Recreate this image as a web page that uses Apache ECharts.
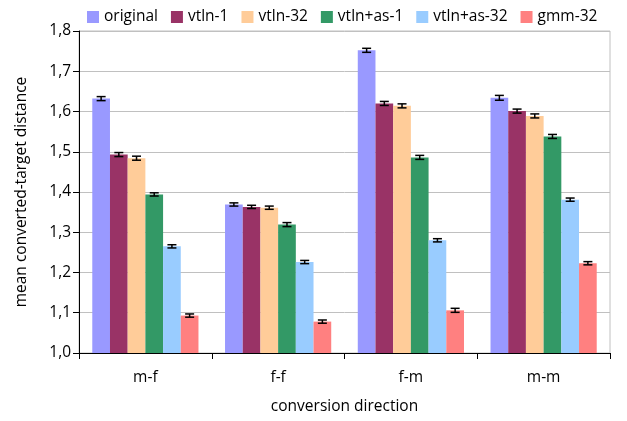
<!DOCTYPE html>
<html>
<head>
<meta charset="utf-8">
<script src="https://cdn.jsdelivr.net/npm/echarts@6/dist/echarts.min.js"></script>
<style>
  html, body { margin: 0; padding: 0; background: #fff; }
  #chart { width: 627px; height: 421px; }
</style>
</head>
<body>
<div id="chart"></div>
<script>
const categories = ["m-f", "f-f", "f-m", "m-m"];
const seriesNames = ["original", "vtln-1", "vtln-32", "vtln+as-1", "vtln+as-32", "gmm-32"];
const colors = ["#9999ff", "#993366", "#ffcc99", "#339966", "#99ccff", "#ff8080"];

// mean distance per conversion direction
const original = [1.632, 1.369, 1.752, 1.634];
const vtln1 = [1.493, 1.363, 1.620, 1.601];
const vtln32 = [1.484, 1.361, 1.614, 1.589];
const vtlnAs1 = [1.394, 1.319, 1.486, 1.538];
const vtlnAs32 = [1.265, 1.226, 1.280, 1.381];
const gmm32 = [1.093, 1.078, 1.106, 1.223];

// half-width of the error bars
const errOriginal = [0.005, 0.004, 0.005, 0.006];
const errVtln1 = [0.005, 0.004, 0.005, 0.005];
const errVtln32 = [0.005, 0.004, 0.005, 0.005];
const errVtlnAs1 = [0.004, 0.005, 0.005, 0.005];
const errVtlnAs32 = [0.004, 0.004, 0.004, 0.004];
const errGmm32 = [0.004, 0.004, 0.005, 0.004];

const yTicks = ["1,0", "1,1", "1,2", "1,3", "1,4", "1,5", "1,6", "1,7", "1,8"];

const values = [original, vtln1, vtln32, vtlnAs1, vtlnAs32, gmm32];
const errors = [errOriginal, errVtln1, errVtln32, errVtlnAs1, errVtlnAs32, errGmm32];
const catGap = 0.2;
const font = "'Open Sans', sans-serif";

const chart = echarts.init(document.getElementById("chart"), null, { renderer: "canvas" });

const barSeries = seriesNames.map((name, i) => ({
  name,
  type: "bar",
  data: values[i],
  barGap: "0%",
  barCategoryGap: catGap * 100 + "%",
  itemStyle: { color: colors[i] },
  z: 2,
}));

const errorData = [];
values.forEach((vals, s) => {
  vals.forEach((v, c) => errorData.push([c, s, v, errors[s][c]]));
});

const errorSeries = {
  type: "custom",
  name: "errors",
  data: errorData,
  encode: { x: 0, y: 2 },
  z: 5,
  renderItem(params, api) {
    const c = api.value(0);
    const s = api.value(1);
    const v = api.value(2);
    const e = api.value(3);
    const band = api.size([1, 0])[0];
    const bw = (band * (1 - catGap)) / seriesNames.length;
    const center = api.coord([c, v])[0];
    const x = center - (band * (1 - catGap)) / 2 + (s + 0.5) * bw;
    const yHi = api.coord([c, v + e])[1];
    const yLo = api.coord([c, v - e])[1];
    const cap = 4.5;
    const style = { stroke: "#000", lineWidth: 1.5 };
    return {
      type: "group",
      children: [
        { type: "line", shape: { x1: x, y1: yHi, x2: x, y2: yLo }, style },
        { type: "line", shape: { x1: x - cap, y1: yHi, x2: x + cap, y2: yHi }, style },
        { type: "line", shape: { x1: x - cap, y1: yLo, x2: x + cap, y2: yLo }, style },
      ],
    };
  },
};

chart.setOption({
  animation: false,
  textStyle: { fontFamily: font },
  legend: {
    data: seriesNames,
    top: 4,
    left: 82,
    itemWidth: 12,
    itemHeight: 12,
    itemGap: 13,
    icon: "rect",
    textStyle: { fontSize: 15.5, color: "#000", fontFamily: font },
  },
  grid: {
    left: 79,
    right: 17,
    top: 31,
    bottom: 68,
    show: true,
    borderColor: "#c0c0c0",
    borderWidth: 1,
  },
  xAxis: {
    type: "category",
    data: categories,
    name: "conversion direction",
    nameLocation: "middle",
    nameGap: 46,
    nameTextStyle: { fontSize: 15.5, color: "#000", fontFamily: font },
    axisLine: { lineStyle: { color: "#000", width: 1 } },
    axisTick: { show: true, length: 6, lineStyle: { color: "#000" } },
    axisLabel: { fontSize: 15.5, color: "#000", margin: 17 },
  },
  yAxis: {
    type: "value",
    min: 1.0,
    max: 1.8,
    interval: 0.1,
    name: "mean converted-target distance",
    nameLocation: "middle",
    nameGap: 49,
    nameTextStyle: { fontSize: 15.5, color: "#000", fontFamily: font },
    axisLine: { show: true, lineStyle: { color: "#000", width: 1 } },
    axisTick: { show: true, length: 6, lineStyle: { color: "#000" } },
    axisLabel: {
      fontSize: 15.5,
      color: "#000",
      margin: 8,
      formatter: (val) => yTicks[Math.round((val - 1) * 10)],
    },
    splitLine: { lineStyle: { color: "#c0c0c0", width: 1 } },
  },
  series: [...barSeries, errorSeries],
});
</script>
</body>
</html>
